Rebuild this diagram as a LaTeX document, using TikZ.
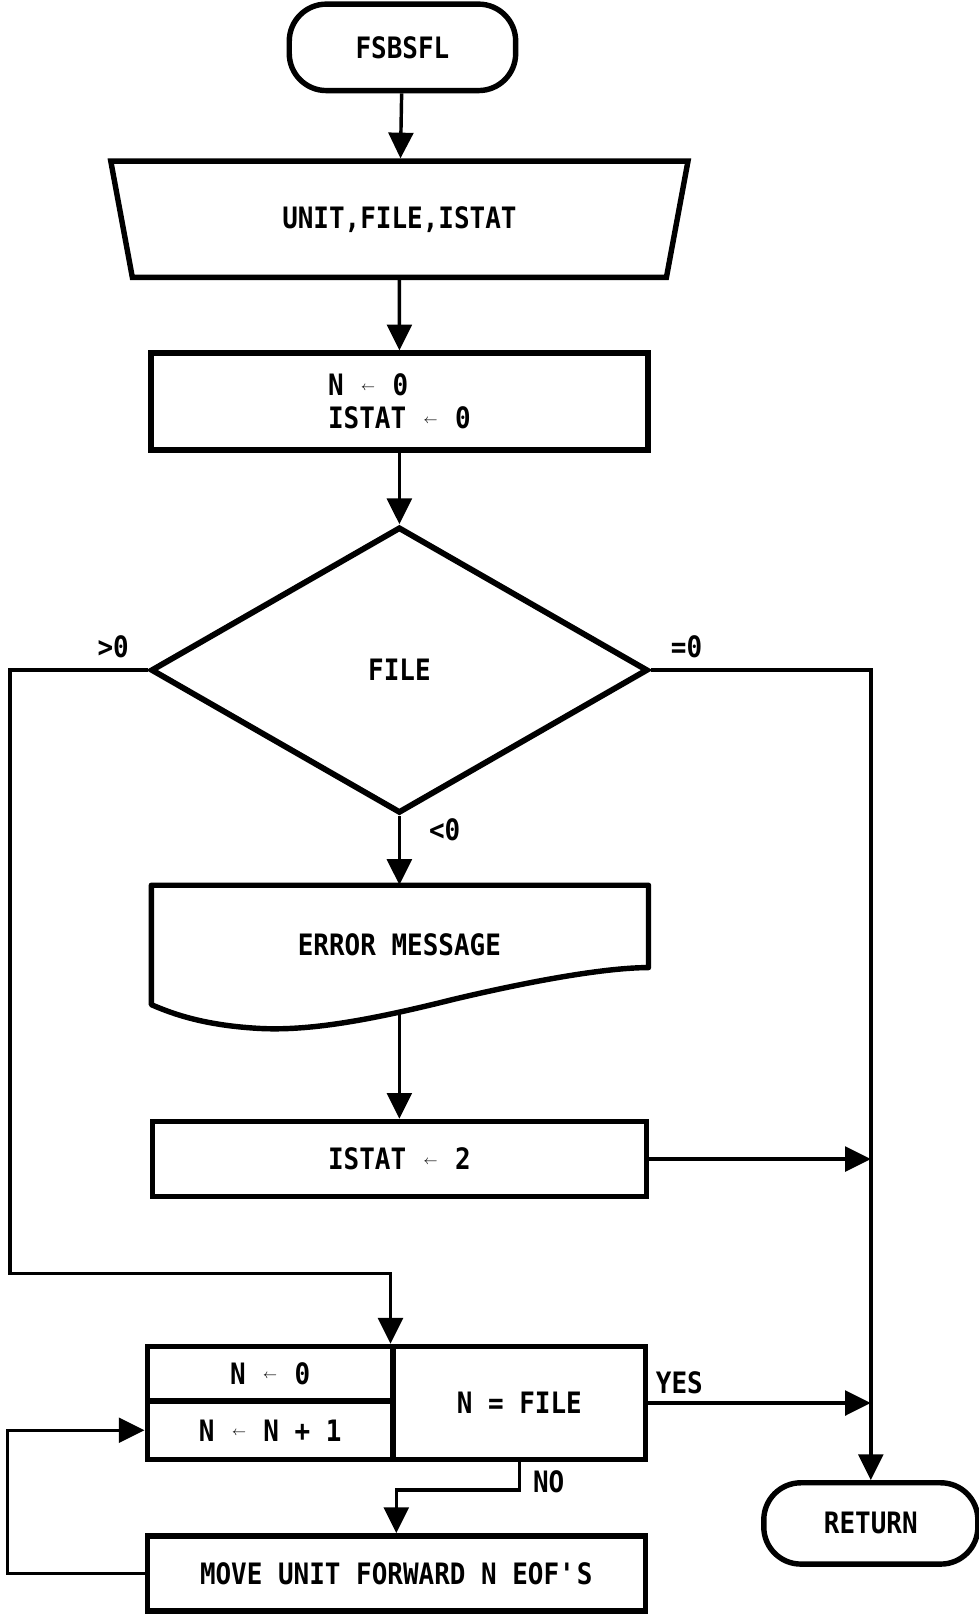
\documentclass[tikz,border=0pt]{standalone}
\usepackage{fontspec}
\setmainfont{DejaVu Sans Mono}[FakeStretch=0.88]
\usetikzlibrary{arrows.meta, shapes.geometric, calc}
\newcommand{\asgn}{\makebox[0.6em]{\raisebox{3pt}{\scriptsize$\leftarrow$}}}

\begin{document}
\begin{tikzpicture}[x=0.02cm, y=-0.02cm,
    every node/.style={font=\fontsize{16.3}{18.5}\selectfont\bfseries, inner sep=0pt},
    term/.style={draw, line width=3pt, rounded corners=0.72cm},
    iobox/.style={draw, line width=3pt, trapezium, trapezium left angle=70, trapezium right angle=70,
        shape border rotate=180, trapezium stretches=true},
    procbox/.style={draw, line width=3pt, rectangle},
    decbox/.style={draw, line width=3.2pt, diamond, aspect=1.7},
    conn/.style={line width=1.9pt, -{Triangle[length=0.5cm, width=0.48cm]}},
    lbl/.style={inner sep=1pt}]
    \useasboundingbox (0,0) rectangle (951,1568);

    % main column
    \node[term, minimum width=4.4cm, minimum height=1.68cm] (start) at (391,46) {FSBSFL};
    \node[iobox, minimum width=11.22cm, minimum height=2.26cm] (input) at (388,213) {UNIT,FILE,ISTAT};
    \node[procbox, minimum width=9.66cm, minimum height=1.88cm, align=left] (init) at (388,390)
        {N \asgn{} 0\\ISTAT \asgn{} 0};
    \node[decbox, minimum width=9.66cm, minimum height=5.56cm] (dec) at (388,651) {FILE};

    % error message (document)
    \node[minimum width=9.66cm, minimum height=2.32cm] (err) at (388,918) {ERROR MESSAGE};
    \draw[line width=3pt, line join=round] (147,860) -- (630,860) -- (630,940)
        .. controls (590,940) and (520,952) .. (440,971)
        .. controls (360,991) and (300,1002) .. (250,999)
        .. controls (200,996) and (170,986) .. (147,976) -- cycle;
    \coordinate (errout) at (388,984);

    \node[procbox, minimum width=9.6cm, minimum height=1.46cm] (ist) at (388,1126) {ISTAT \asgn{} 2};

    % loop box
    \node[procbox, minimum width=4.78cm, minimum height=1.06cm] (nzero) at (262.5,1334.5) {N \asgn{} 0};
    \node[procbox, minimum width=4.78cm, minimum height=1.14cm] (ninc) at (262.5,1389.5) {N \asgn{} N + 1};
    \node[procbox, minimum width=4.9cm, minimum height=2.2cm] (ntest) at (504.5,1363) {N = FILE};
    \node[procbox, minimum width=9.68cm, minimum height=1.46cm] (move) at (385,1528.5)
        {MOVE UNIT FORWARD N EOF\textquotesingle S};
    \node[term, minimum width=4.16cm, minimum height=1.58cm] (ret) at (846,1480) {RETURN};

    % connectors
    \draw[conn] (start) -- (input);
    \draw[conn] (input) -- (init);
    \draw[conn] (init) -- (dec);
    \draw[conn] (dec.south) -- (err.north);
    \draw[conn] (errout) -- (ist.north);
    \draw[conn] (dec.west) -- ++(-134,0) |- ($(ntest.north west)+(0,-68)$) -- (ntest.north west);
    \draw[conn] (dec.east) -| (ret.north);
    \draw[conn] (ist.east) -- (ist.east -| ret.north);
    \draw[conn] (ntest.east) -- (ntest.east -| ret.north);
    \draw[conn] (ntest.south) -- ++(0,27) -| (move.north);
    \draw[conn] (move.west) -- ++(-133,0) |- (ninc.west);

    % branch labels
    \node[lbl] (gtz) at (110,628) {>0};
    \node[lbl] (eqz) at (667,628) {=0};
    \node[lbl] (ltz) at (432,806) {<0};
    \node[lbl] (yes) at (660,1343) {YES};
    \node[lbl] (no) at (533,1440) {NO};
\end{tikzpicture}
\end{document}
